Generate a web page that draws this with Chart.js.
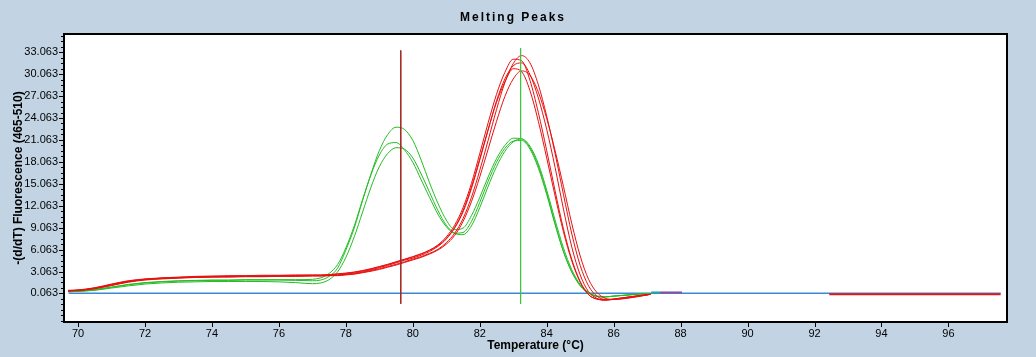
<!DOCTYPE html>
<html><head><meta charset="utf-8">
<script src="https://cdn.jsdelivr.net/npm/chart.js@4.4.1/dist/chart.umd.min.js"></script>
<style>html,body{margin:0;padding:0;background:#C2D4E4;overflow:hidden}canvas{display:block}</style>
</head><body>
<canvas id="c" width="1036" height="357"></canvas>
<script>
const chartTitle = 'Melting Peaks';
const xTitle = 'Temperature (°C)';
const yTitle = '-(d/dT) Fluorescence (465-510)';

const temps = [69.7,70,70.5,71,71.5,72,72.5,73,73.5,74,74.5,75,75.5,76,76.5,77,
  77.25,77.5,77.75,78,78.25,78.5,78.75,79,79.25,79.5,79.75,
  80,80.25,80.5,80.75,81,81.25,81.5,81.75,82,82.25,82.5,82.75,
  83,83.25,83.5,83.75,84,84.25,84.5,84.75,85,85.25,85.5,85.75,
  86,86.4,86.8,87.1];

const red1 = [0.45,0.5,0.8,1.3,1.75,2.0,2.15,2.25,2.3,2.35,2.4,2.4,2.45,2.45,2.5,2.5,
  2.5,2.55,2.6,2.7,2.85,3.05,3.3,3.6,3.9,4.25,4.6,
  4.9,5.3,5.8,6.5,7.5,9.0,11.2,14.4,18.3,22.4,26.4,29.4,
  31.2,31.6,30.0,26.8,22.5,17.3,11.6,6.4,2.6,0.3,-0.6,-0.85,
  -0.75,-0.5,-0.25,-0.05];
const red2 = [0.4,0.5,0.75,1.2,1.65,1.95,2.1,2.2,2.3,2.35,2.35,2.4,2.4,2.45,2.45,2.5,
  2.5,2.5,2.55,2.65,2.75,2.95,3.2,3.45,3.75,4.05,4.4,
  4.75,5.1,5.55,6.1,7.0,8.3,10.3,13.2,16.9,21.0,25.2,28.9,
  31.5,32.6,31.6,28.6,24.3,19.2,13.6,8.2,3.9,1.1,-0.3,-0.75,
  -0.75,-0.55,-0.3,-0.05];
const red3 = [0.5,0.55,0.85,1.35,1.8,2.05,2.2,2.3,2.4,2.45,2.5,2.5,2.55,2.55,2.6,2.6,
  2.6,2.65,2.75,2.85,3.0,3.2,3.45,3.75,4.05,4.4,4.75,
  5.1,5.5,6.0,6.7,7.8,9.4,11.8,15.1,19.2,23.4,27.3,30.3,
  32.1,31.9,29.2,24.8,19.6,14.1,8.9,4.7,1.7,-0.1,-0.7,-0.85,
  -0.7,-0.45,-0.2,-0.05];
const red4 = [0.45,0.5,0.8,1.25,1.7,2.0,2.15,2.25,2.3,2.35,2.4,2.45,2.45,2.5,2.5,2.55,
  2.55,2.6,2.7,2.8,2.95,3.15,3.4,3.7,4.0,4.35,4.7,
  5.05,5.45,5.95,6.6,7.6,9.1,11.4,14.6,18.5,22.5,26.2,29.0,
  30.8,30.4,27.8,23.6,18.6,13.4,8.5,4.5,1.6,-0.1,-0.7,-0.8,
  -0.7,-0.45,-0.2,-0.05];
const red5 = [0.4,0.45,0.7,1.15,1.6,1.9,2.05,2.15,2.25,2.3,2.3,2.35,2.35,2.4,2.4,2.45,
  2.45,2.5,2.5,2.6,2.7,2.9,3.1,3.35,3.65,3.95,4.3,
  4.65,5.0,5.45,6.0,6.8,8.0,9.9,12.6,16.0,19.8,23.6,27.0,
  29.4,30.5,29.9,27.6,24.0,19.6,14.7,9.6,5.2,2.0,0.2,-0.6,
  -0.75,-0.6,-0.3,-0.05];

const green1 = [0.3,0.35,0.55,0.9,1.25,1.5,1.65,1.75,1.8,1.85,1.85,1.9,1.9,1.9,1.85,1.8,
  1.9,2.4,3.5,6.0,9.0,12.8,16.4,19.6,21.8,22.8,22.5,
  21.0,18.3,15.2,12.4,10.1,8.8,9.0,10.7,13.2,16.0,18.5,20.3,
  21.3,21.2,20.0,17.5,13.8,9.6,5.8,3.0,1.2,0.2,-0.3,-0.4,
  -0.3,-0.15,0.0,0.05];
const green2 = [0.35,0.4,0.6,0.95,1.3,1.55,1.7,1.8,1.85,1.9,1.9,1.95,1.95,1.95,1.95,2.0,
  2.2,2.8,4.0,6.3,9.3,12.9,16.3,19.0,20.5,20.7,19.7,
  18.0,15.6,13.2,10.9,9.2,8.3,8.4,9.9,12.5,15.4,18.0,19.9,
  20.9,21.0,19.8,17.2,13.6,9.5,5.8,3.0,1.1,0.1,-0.35,-0.4,
  -0.3,-0.15,0.0,0.05];
const green3 = [0.3,0.35,0.5,0.8,1.1,1.35,1.5,1.6,1.65,1.7,1.7,1.7,1.7,1.65,1.55,1.4,
  1.5,1.95,3.0,5.0,7.8,11.2,14.6,17.4,19.2,20.0,19.8,
  18.6,16.4,13.9,11.4,9.4,8.3,8.1,9.3,11.8,14.7,17.4,19.5,
  20.8,21.2,20.2,17.8,14.2,10.1,6.3,3.3,1.3,0.2,-0.3,-0.4,
  -0.3,-0.15,0.0,0.05];

const xTicks = [70,72,74,76,78,80,82,84,86,88,90,92,94,96];
const yMajorTicks = [0.063,3.063,6.063,9.063,12.063,15.063,18.063,21.063,24.063,27.063,30.063,33.063];
const yMinorStep = 0.75;

const markerTemps = [79.64, 83.22];
const markerTops = [33.3, 33.6];
const markerBottom = -1.35;
const baselineX = [69.72, 97.56];
const baselineY = 0.1;
const tailX = [92.44, 97.56];
const tailY = -0.05;
const tealX = [87.12, 87.38];
const purpleX = [87.38, 88.04];
const stubY = 0.2;

const xMin = 69.58, xMax = 97.75, yMin = -3.84, yMax = 35.55;

const FONT = '"Liberation Sans", Arial, sans-serif';
Chart.defaults.font.family = FONT;

const pts = arr => temps.map((t, i) => ({x: t, y: arr[i]}));
const RED = '#E81010', GREEN = '#25BD25';

const curve = (data, color, order) => ({data: pts(data), borderColor: color, borderWidth: 1,
  pointRadius: 0, cubicInterpolationMode: 'monotone', fill: false, order});
const seg = (xs, y, color, w, order) => ({data: xs.map(x => ({x, y})), borderColor: color,
  borderWidth: w, pointRadius: 0, fill: false, order});

const datasets = [
  {data: [{x: markerTemps[0], y: markerTops[0]}, {x: markerTemps[0], y: markerBottom}], borderColor: '#A52A22', borderWidth: 1, pointRadius: 0, order: 0},
  {data: [{x: markerTemps[1], y: markerTops[1]}, {x: markerTemps[1], y: markerBottom}], borderColor: '#3EC43E', borderWidth: 1, pointRadius: 0, order: 0},
  curve(red1, RED, 1), curve(red2, RED, 1), curve(red3, RED, 1), curve(red4, RED, 1), curve(red5, RED, 1),
  curve(green1, GREEN, 2), curve(green2, GREEN, 2), curve(green3, GREEN, 2),
  seg(tealX, stubY, '#1FA8A0', 2, 2.5),
  seg(purpleX, stubY, '#8A4FA0', 2, 2.5),
  seg(tailX, tailY, '#E01818', 2, 2.6),
  seg(baselineX, baselineY, '#3A88D8', 1.5, 3)
];

const isMajor = v => yMajorTicks.some(m => Math.abs(m - v) < 1e-6);

const framePlugin = {
  id: 'frame',
  beforeDraw(chart) {
    const {ctx, chartArea: a} = chart;
    ctx.save();
    ctx.fillStyle = '#C2D4E4';
    ctx.fillRect(0, 0, chart.width, chart.height);
    ctx.fillStyle = '#FFFFFF';
    ctx.fillRect(a.left, a.top, a.right - a.left, a.bottom - a.top);
    ctx.fillStyle = '#000';
    ctx.font = 'bold 12px ' + FONT;
    ctx.letterSpacing = '2px';
    ctx.textAlign = 'center';
    ctx.textBaseline = 'middle';
    ctx.fillText(chartTitle, 513, 18);
    ctx.restore();
  },
  afterDraw(chart) {
    const {ctx, chartArea: a, scales} = chart;
    ctx.save();
    ctx.strokeStyle = '#000';
    ctx.lineWidth = 1;
    ctx.beginPath();
    scales.y.ticks.forEach(t => {
      const py = Math.round(scales.y.getPixelForValue(t.value)) + 0.5;
      const len = isMajor(t.value) ? 5 : 3;
      ctx.moveTo(a.left - len, py); ctx.lineTo(a.left, py);
    });
    scales.x.ticks.forEach(t => {
      const px = Math.round(scales.x.getPixelForValue(t.value)) + 0.5;
      ctx.moveTo(px, a.bottom); ctx.lineTo(px, a.bottom + 5);
    });
    ctx.stroke();
    ctx.lineWidth = 2;
    ctx.strokeRect(a.left, a.top, a.right - a.left, a.bottom - a.top);
    ctx.restore();
  }
};

new Chart(document.getElementById('c'), {
  type: 'line',
  data: {datasets},
  plugins: [framePlugin],
  options: {
    responsive: false, animation: false, devicePixelRatio: 1,
    layout: {padding: {left: 0, top: 34, right: 29, bottom: 0}},
    plugins: {legend: {display: false}, tooltip: {enabled: false}, title: {display: false}},
    scales: {
      x: {
        type: 'linear', min: xMin, max: xMax,
        afterBuildTicks: s => { s.ticks = xTicks.map(v => ({value: v})); },
        afterFit: s => { s.height = 35; },
        ticks: {autoSkip: false, maxRotation: 0, minRotation: 0, padding: 1, color: '#000',
          font: {size: 11}, callback: v => String(v)},
        grid: {display: true, drawOnChartArea: false, color: 'rgba(0,0,0,0)', tickColor: 'rgba(0,0,0,0)', tickLength: 4},
        border: {display: false},
        title: {display: true, text: xTitle, color: '#000', font: {size: 12, weight: 'bold'}, padding: {top: 0, bottom: 4}}
      },
      y: {
        type: 'linear', min: yMin, max: yMax,
        afterBuildTicks: s => {
          const list = [];
          const first = yMajorTicks[0];
          for (let k = -5; first + k * yMinorStep <= yMax; k++) {
            const v = +(first + k * yMinorStep).toFixed(3);
            if (v >= yMin) list.push({value: v});
          }
          s.ticks = list;
        },
        afterFit: s => { s.width = 64; },
        ticks: {autoSkip: false, padding: 1, color: '#000', font: {size: 11},
          callback: v => isMajor(v) ? v.toFixed(3) : ''},
        grid: {display: true, drawOnChartArea: false, color: 'rgba(0,0,0,0)', tickColor: 'rgba(0,0,0,0)', tickLength: 5},
        border: {display: false},
        title: {display: true, text: yTitle, color: '#000', font: {size: 12, weight: 'bold'}, padding: {top: 11, bottom: 0}}
      }
    }
  }
});
</script>
</body></html>
